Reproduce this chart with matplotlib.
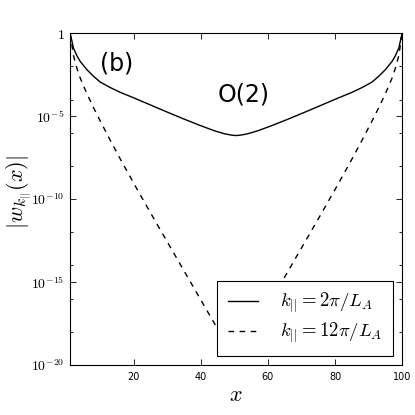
import numpy as np
import matplotlib
matplotlib.use('Agg')
from matplotlib import pyplot as plt
from matplotlib.ticker import FixedLocator, FixedFormatter

plt.rcParams['mathtext.fontset'] = 'cm'

# values: x positions and log10 of |w|
x_vals = [1, 2, 3, 4, 6, 8, 10, 13, 16, 20, 25, 30, 35, 40, 44, 47, 49, 50.5,
          52, 54, 57, 61, 66, 71, 76, 81, 85, 88, 91, 93, 95, 97, 98, 99, 100]
log_w_2pi = [0, -0.9, -1.35, -1.7, -2.2, -2.6, -2.95, -3.28, -3.57, -3.9, -4.33,
             -4.76, -5.18, -5.58, -5.88, -6.06, -6.14, -6.17,
             -6.14, -6.06, -5.88, -5.58, -5.18, -4.76, -4.33, -3.9, -3.57,
             -3.28, -2.95, -2.6, -2.2, -1.7, -1.35, -0.9, 0]
log_w_12pi = [0, -1.35, -2.1, -2.7, -3.65, -4.5, -5.3, -6.47, -7.6, -9.06, -10.84,
              -12.59, -14.34, -16.09, -17.49, -18.5, -19.1, -19.4,
              -19.1, -18.5, -17.49, -16.09, -14.34, -12.59, -10.84, -9.06, -7.6,
              -6.47, -5.3, -4.5, -3.65, -2.7, -2.1, -1.35, 0]

labels = [r'$k_{||}=2\pi/L_A$', r'$k_{||}=12\pi/L_A$']

y_major = [1e-20, 1e-15, 1e-10, 1e-5, 1]
y_major_labels = [r'$10^{-20}$', r'$10^{-15}$', r'$10^{-10}$', r'$10^{-5}$', r'$1$']
y_minor = [1e-18, 1e-16, 1e-14, 1e-12, 1e-8, 1e-6, 1e-4, 1e-2]
x_ticks = [20, 40, 60, 80, 100]

fig = plt.figure(figsize=(4.15, 4.15), dpi=100)
ax = fig.add_axes([0.169, 0.1205, 0.8, 0.7995])

ax.semilogy(x_vals, 10.0 ** np.array(log_w_2pi), 'k-', lw=1.0, label=labels[0])
ax.semilogy(x_vals, 10.0 ** np.array(log_w_12pi), 'k--', lw=1.0, dashes=(4, 4),
            label=labels[1])

ax.set_xlim(1, 100)
ax.set_ylim(1e-20, 1)

ax.yaxis.set_major_locator(FixedLocator(y_major))
ax.yaxis.set_major_formatter(FixedFormatter(y_major_labels))
ax.yaxis.set_minor_locator(FixedLocator(y_minor))
ax.yaxis.set_minor_formatter(FixedFormatter([''] * len(y_minor)))
ax.set_xticks(x_ticks)

ax.tick_params(which='both', direction='in', top=True, right=True)
ax.tick_params(which='major', length=4, width=0.6)
ax.tick_params(which='minor', length=2, width=0.6)
ax.tick_params(axis='x', labelsize=7, pad=5)
ax.tick_params(axis='y', labelsize=10, pad=4)

ax.set_xlabel(r'$x$', fontsize=16, labelpad=2)
ax.set_ylabel(r'$|w_{k_{||}}(x)|$', fontsize=16)
ax.yaxis.set_label_coords(-0.112, 0.52)

ax.text(0.09, 0.91, '(b)', transform=ax.transAxes, fontsize=17, va='center')
ax.text(0.445, 0.815, 'O(2)', transform=ax.transAxes, fontsize=17, va='center')

leg = ax.legend(loc='lower right', fontsize=13.5, fancybox=False, framealpha=1,
                edgecolor='black', borderaxespad=0.5, handlelength=1.6,
                handletextpad=1.2, borderpad=0.55, labelspacing=0.3)
leg.get_frame().set_linewidth(0.8)

fig.savefig('out.png', dpi=100)
